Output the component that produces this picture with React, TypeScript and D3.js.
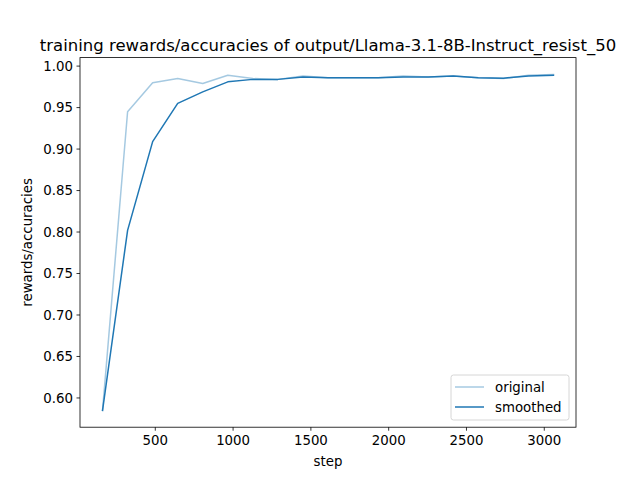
import React from "react";
import * as d3 from "d3";

const steps = [161, 322, 483, 644, 805, 966, 1127, 1288, 1449, 1610, 1771, 1932, 2093, 2254, 2415, 2576, 2737, 2898, 3059];
const original = [0.585, 0.945, 0.98, 0.985, 0.979, 0.989, 0.985, 0.984, 0.988, 0.986, 0.986, 0.986, 0.988, 0.987, 0.988, 0.986, 0.985, 0.989, 0.990];
const smoothed = [0.585, 0.802, 0.909, 0.955, 0.969, 0.981, 0.984, 0.984, 0.987, 0.986, 0.986, 0.986, 0.987, 0.987, 0.988, 0.986, 0.9855, 0.988, 0.989];
const xTicks = [500, 1000, 1500, 2000, 2500, 3000];
const yTicks = [0.6, 0.65, 0.7, 0.75, 0.8, 0.85, 0.9, 0.95, 1.0];
const title = "training rewards/accuracies of output/Llama-3.1-8B-Instruct_resist_50";

const W = 640, H = 480;
const L = 80, R = 576, T = 57.6, B = 427.2;
const font = "DejaVu Sans, sans-serif";
const color = "#1f77b4";

export default function App() {
  const xmin = d3.min(steps)!, xmax = d3.max(steps)!;
  const xpad = (xmax - xmin) * 0.05;
  const allY = [...original, ...smoothed];
  const ymin = d3.min(allY)!, ymax = d3.max(allY)!;
  const ypad = (ymax - ymin) * 0.05;
  const x = d3.scaleLinear().domain([xmin - xpad, xmax + xpad]).range([L, R]);
  const y = d3.scaleLinear().domain([ymin - ypad, ymax + ypad]).range([B, T]);
  const line = d3.line<[number, number]>().x(d => x(d[0])).y(d => y(d[1]));
  const origPts = steps.map((s, i) => [s, original[i]] as [number, number]);
  const smPts = steps.map((s, i) => [s, smoothed[i]] as [number, number]);

  const legX = 451, legY = 375, legW = 118, legH = 45;

  return (
    <svg width={W} height={H} style={{ position: "absolute", left: 0, top: 0 }} fontFamily={font}>
      <rect x={0} y={0} width={W} height={H} fill="#fff" />
      <path d={line(origPts)!} fill="none" stroke={color} strokeOpacity={0.4} strokeWidth={1.5} strokeLinejoin="round" strokeLinecap="square" />
      <path d={line(smPts)!} fill="none" stroke={color} strokeWidth={1.5} strokeLinejoin="round" strokeLinecap="square" />
      <rect x={L} y={T} width={R - L} height={B - T} fill="none" stroke="#000" strokeWidth={0.8} />
      {xTicks.map(t => (
        <g key={t}>
          <line x1={x(t)} x2={x(t)} y1={B} y2={B + 3.5} stroke="#000" strokeWidth={0.8} />
          <text x={x(t)} y={B + 18} fontSize={13.33} textAnchor="middle" fill="#000">{t}</text>
        </g>
      ))}
      {yTicks.map(t => (
        <g key={t}>
          <line x1={L - 3.5} x2={L} y1={y(t)} y2={y(t)} stroke="#000" strokeWidth={0.8} />
          <text x={L - 7} y={y(t) + 4.8} fontSize={13.33} textAnchor="end" fill="#000">{t.toFixed(2)}</text>
        </g>
      ))}
      <text x={(L + R) / 2} y={466} fontSize={13.33} textAnchor="middle" fill="#000">step</text>
      <text transform={`translate(32,${(T + B) / 2}) rotate(-90)`} fontSize={13.33} textAnchor="middle" fill="#000">rewards/accuracies</text>
      <text x={(L + R) / 2} y={50.5} fontSize={16.5} textAnchor="middle" fill="#000">{title}</text>
      <rect x={legX} y={legY} width={legW} height={legH} rx={2.5} fill="#fff" fillOpacity={0.8} stroke="#cccccc" strokeWidth={0.8} />
      <line x1={legX + 4} x2={legX + 33} y1={legY + 12} y2={legY + 12} stroke={color} strokeOpacity={0.4} strokeWidth={1.5} />
      <text x={legX + 44} y={legY + 16.5} fontSize={13.33} fill="#000">original</text>
      <line x1={legX + 4} x2={legX + 33} y1={legY + 32} y2={legY + 32} stroke={color} strokeWidth={1.5} />
      <text x={legX + 44} y={legY + 36.5} fontSize={13.33} fill="#000">smoothed</text>
    </svg>
  );
}
